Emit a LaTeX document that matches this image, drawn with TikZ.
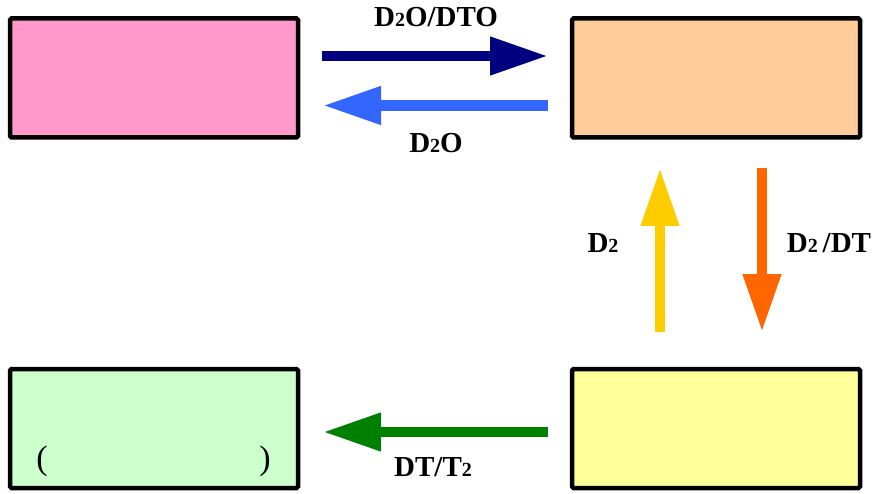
\documentclass[tikz,border=0pt]{standalone}
\usepackage{fontspec}
\setmainfont{Liberation Serif}
\usetikzlibrary{arrows.meta}
\definecolor{cpink}{HTML}{FF99CC}
\definecolor{corange}{HTML}{FFCC99}
\definecolor{cgreen}{HTML}{CCFFCC}
\definecolor{cyellow}{HTML}{FFFF99}
\definecolor{anavy}{HTML}{000080}
\definecolor{ablue}{HTML}{3366FF}
\definecolor{ayellow}{HTML}{FFCC00}
\definecolor{aorange}{HTML}{FF6600}
\definecolor{agreen}{HTML}{008000}
\newcommand{\subtwo}{{\fontsize{20}{20}\selectfont 2}}
\tikzset{
  boxnode/.style={draw=black, line width=4.5pt, rounded corners=1.5pt, minimum width=288pt, minimum height=119pt, inner sep=0pt},
  fatarrow/.style={line width=10.5pt, -{Triangle[length=58pt,width=36pt]}},
  lbl/.style={font=\fontsize{29}{29}\selectfont\bfseries, inner sep=0pt},
  paren/.style={font=\fontsize{34}{34}\selectfont, inner sep=0pt}
}
\begin{document}
\begin{tikzpicture}[x=1pt,y=-1pt]
\useasboundingbox (0,0) rectangle (877,494);
\node[boxnode, fill=cpink] (pink) at (154,78) {};
\node[boxnode, fill=corange] (orange) at (716,78) {};
\node[boxnode, fill=cgreen] (green) at (154,428.5) {};
\node[boxnode, fill=cyellow] (yellow) at (716,428.5) {};
\node[paren] (lp) at (42,461) {(};
\node[paren] (rp) at (265,461) {)};
% arrow endpoints
\coordinate (n1) at (322,56);
\coordinate (n2) at (548,56);
\coordinate (b1) at (548,105.5);
\coordinate (b2) at (323,105.5);
\coordinate (y1) at (660,332);
\coordinate (y2) at (660,168);
\coordinate (o1) at (762,168);
\coordinate (o2) at (762,332);
\coordinate (g1) at (548,432);
\coordinate (g2) at (323,432);
\draw[fatarrow, anavy] (n1) -- (n2);
\draw[fatarrow, ablue] (b1) -- (b2);
\draw[fatarrow, ayellow] (y1) -- (y2);
\draw[fatarrow, aorange] (o1) -- (o2);
\draw[fatarrow, agreen] (g1) -- (g2);
\node[lbl] (l1) at (436,17) {D\subtwo O/DTO};
\node[lbl] (l2) at (436,143) {D\subtwo O};
\node[lbl] (l3) at (603,243) {D\subtwo};
\node[lbl] (l4) at (829,243) {D\subtwo\,/DT};
\node[lbl] (l5) at (433,467) {DT/T\subtwo};
\end{tikzpicture}
\end{document}
